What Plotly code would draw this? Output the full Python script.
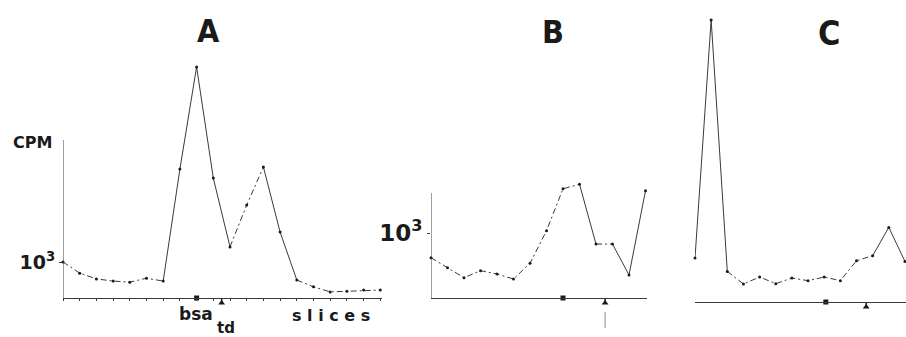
import plotly.graph_objects as go

W, H = 906, 337

# ---------------- data (CPM per slice) ----------------
slices_A = list(range(20))
cpm_A = [1000, 690, 530, 470, 440, 550, 470, 3580, 6420, 3330,
         1420, 2580, 3640, 1830, 500, 310, 170, 190, 220, 220]
solid_A = [False]*6 + [True]*4 + [False, False] + [True, True] + [False]*5

slices_B = list(range(14))
cpm_B = [620, 466, 312, 420, 369, 292, 534, 1035, 1680, 1750, 830, 830, 354, 1650]
solid_B = [False]*9 + [True, False, True, True]

slices_C = list(range(14))
cpm_C = [677, 4340, 470, 277, 385, 282, 369, 328, 385, 328, 635, 712, 1148, 625]
solid_C = [True, True] + [False]*9 + [True, True]

# marker positions (slice units) of bsa and td standards
bsa_pos = {"A": 8.0, "B": 8.0, "C": 8.1}
td_pos = {"A": 9.5, "B": 10.55, "C": 10.6}

INK = "#1a1a1a"
LINE = "#3a3a3a"
DASH = "6px,3px,2px,3px"
TITLE_FONT = "DejaVu Sans Condensed, DejaVu Sans"


def px_x(p):
    return p / W


def px_y(p):
    return 1 - p / H


fig = go.Figure()

panels = {
    # name: (xs, ys, solid, axis suffix, x-pixel start, x-pixel end, px per slice, baseline px, px per 1000)
    "A": (slices_A, cpm_A, solid_A, "", 63, 382, 16.7, 298, 36),
    "B": (slices_B, cpm_B, solid_B, "2", 431, 647, 16.5, 298, 65),
    "C": (slices_C, cpm_C, solid_C, "3", 695, 906, 16.15, 302, 65),
}

for name, (xs, ys, solid, sfx, x0, x1, pps, base, p1000) in panels.items():
    xa, ya = "x" + sfx, "y" + sfx
    for style in (True, False):
        sx, sy = [], []
        for i, s in enumerate(solid):
            if s == style:
                if sx and sx[-1] is not None and sx[-1] == xs[i]:
                    sx.append(xs[i + 1]); sy.append(ys[i + 1])
                else:
                    if sx:
                        sx.append(None); sy.append(None)
                    sx += [xs[i], xs[i + 1]]; sy += [ys[i], ys[i + 1]]
        fig.add_trace(go.Scatter(
            x=sx, y=sy, mode="lines", xaxis=xa, yaxis=ya,
            line=dict(color=LINE, width=1, dash="solid" if style else DASH),
            hoverinfo="skip", showlegend=False))
    fig.add_trace(go.Scatter(
        x=xs, y=ys, mode="markers", xaxis=xa, yaxis=ya,
        marker=dict(color=INK, size=3), showlegend=False, cliponaxis=False))
    # standards markers on the x axis
    unit = 1000 / p1000
    fig.add_trace(go.Scatter(
        x=[bsa_pos[name]], y=[0], mode="markers", xaxis=xa, yaxis=ya,
        marker=dict(color=INK, size=5, symbol="square"), showlegend=False, cliponaxis=False))
    fig.add_trace(go.Scatter(
        x=[td_pos[name]], y=[-5 * unit], mode="markers", xaxis=xa, yaxis=ya,
        marker=dict(color=INK, size=6, symbol="triangle-up"), showlegend=False, cliponaxis=False))
    fig.add_trace(go.Scatter(
        x=[td_pos[name], td_pos[name]], y=[0, -5 * unit], mode="lines", xaxis=xa, yaxis=ya,
        line=dict(color=INK, width=1.5), showlegend=False, hoverinfo="skip"))

    xkey = "xaxis" + sfx
    ykey = "yaxis" + sfx
    fig.layout[xkey] = dict(
        domain=[px_x(x0), px_x(x1)], range=[0, (x1 - x0) / pps],
        anchor="free", position=px_y(base),
        showline=True, linecolor=LINE, linewidth=1, showgrid=False, zeroline=False,
        showticklabels=False,
        ticks="outside" if name == "A" else "", dtick=1, tick0=0, ticklen=2,
        tickcolor=LINE, tickwidth=1, fixedrange=True)
    has_tick = name != "C"
    fig.layout[ykey] = dict(
        domain=[0, 1], range=[-(H - base) * unit, base * unit], anchor=xa,
        showline=False, showgrid=False, zeroline=False,
        tickvals=[1000] if has_tick else None,
        ticktext=["<b>10<sup>3</sup></b>"] if has_tick else None,
        ticks="outside" if has_tick else "", ticklen=3, tickcolor=LINE,
        showticklabels=has_tick,
        tickfont=dict(family="DejaVu Sans", size=19 if name == "A" else 23, color=INK),
        fixedrange=True)

# y axis lines (A and B)
fig.add_shape(type="line", xref="x", yref="y", x0=0, x1=0, y0=0, y1=(298 - 140) / 36 * 1000,
              line=dict(color=LINE, width=1))
fig.add_shape(type="line", xref="x2", yref="y2", x0=0, x1=0, y0=0, y1=(298 - 193) / 65 * 1000,
              line=dict(color=LINE, width=1))
# faint scan line under td marker in B
fig.add_shape(type="line", xref="x2", yref="paper", x0=td_pos["B"], x1=td_pos["B"],
              y0=px_y(312), y1=px_y(328), line=dict(color="#888", width=1))


def ann(text, x, y, size, family="DejaVu Sans", bold=True):
    fig.add_annotation(text=f"<b>{text}</b>" if bold else text,
                       x=px_x(x), y=px_y(y), xref="paper", yref="paper",
                       showarrow=False, xanchor="center", yanchor="middle",
                       font=dict(family=family, size=size, color=INK))


ann("A", 208, 31, 32, TITLE_FONT)
ann("B", 553, 32, 32, TITLE_FONT)
ann("C", 829, 33, 34, TITLE_FONT)
ann("CPM", 32, 142, 16)
ann("bsa", 196, 314, 17)
ann("td", 226, 328, 15)
ann("s l i c e s", 331, 315, 16)

fig.update_layout(
    width=W, height=H, margin=dict(l=0, r=0, t=0, b=0),
    paper_bgcolor="white", plot_bgcolor="rgba(0,0,0,0)",
    showlegend=False)

fig.write_html("out.html", config={"displayModeBar": False},
               post_script="document.body.style.margin='0';document.body.style.overflow='hidden';")
